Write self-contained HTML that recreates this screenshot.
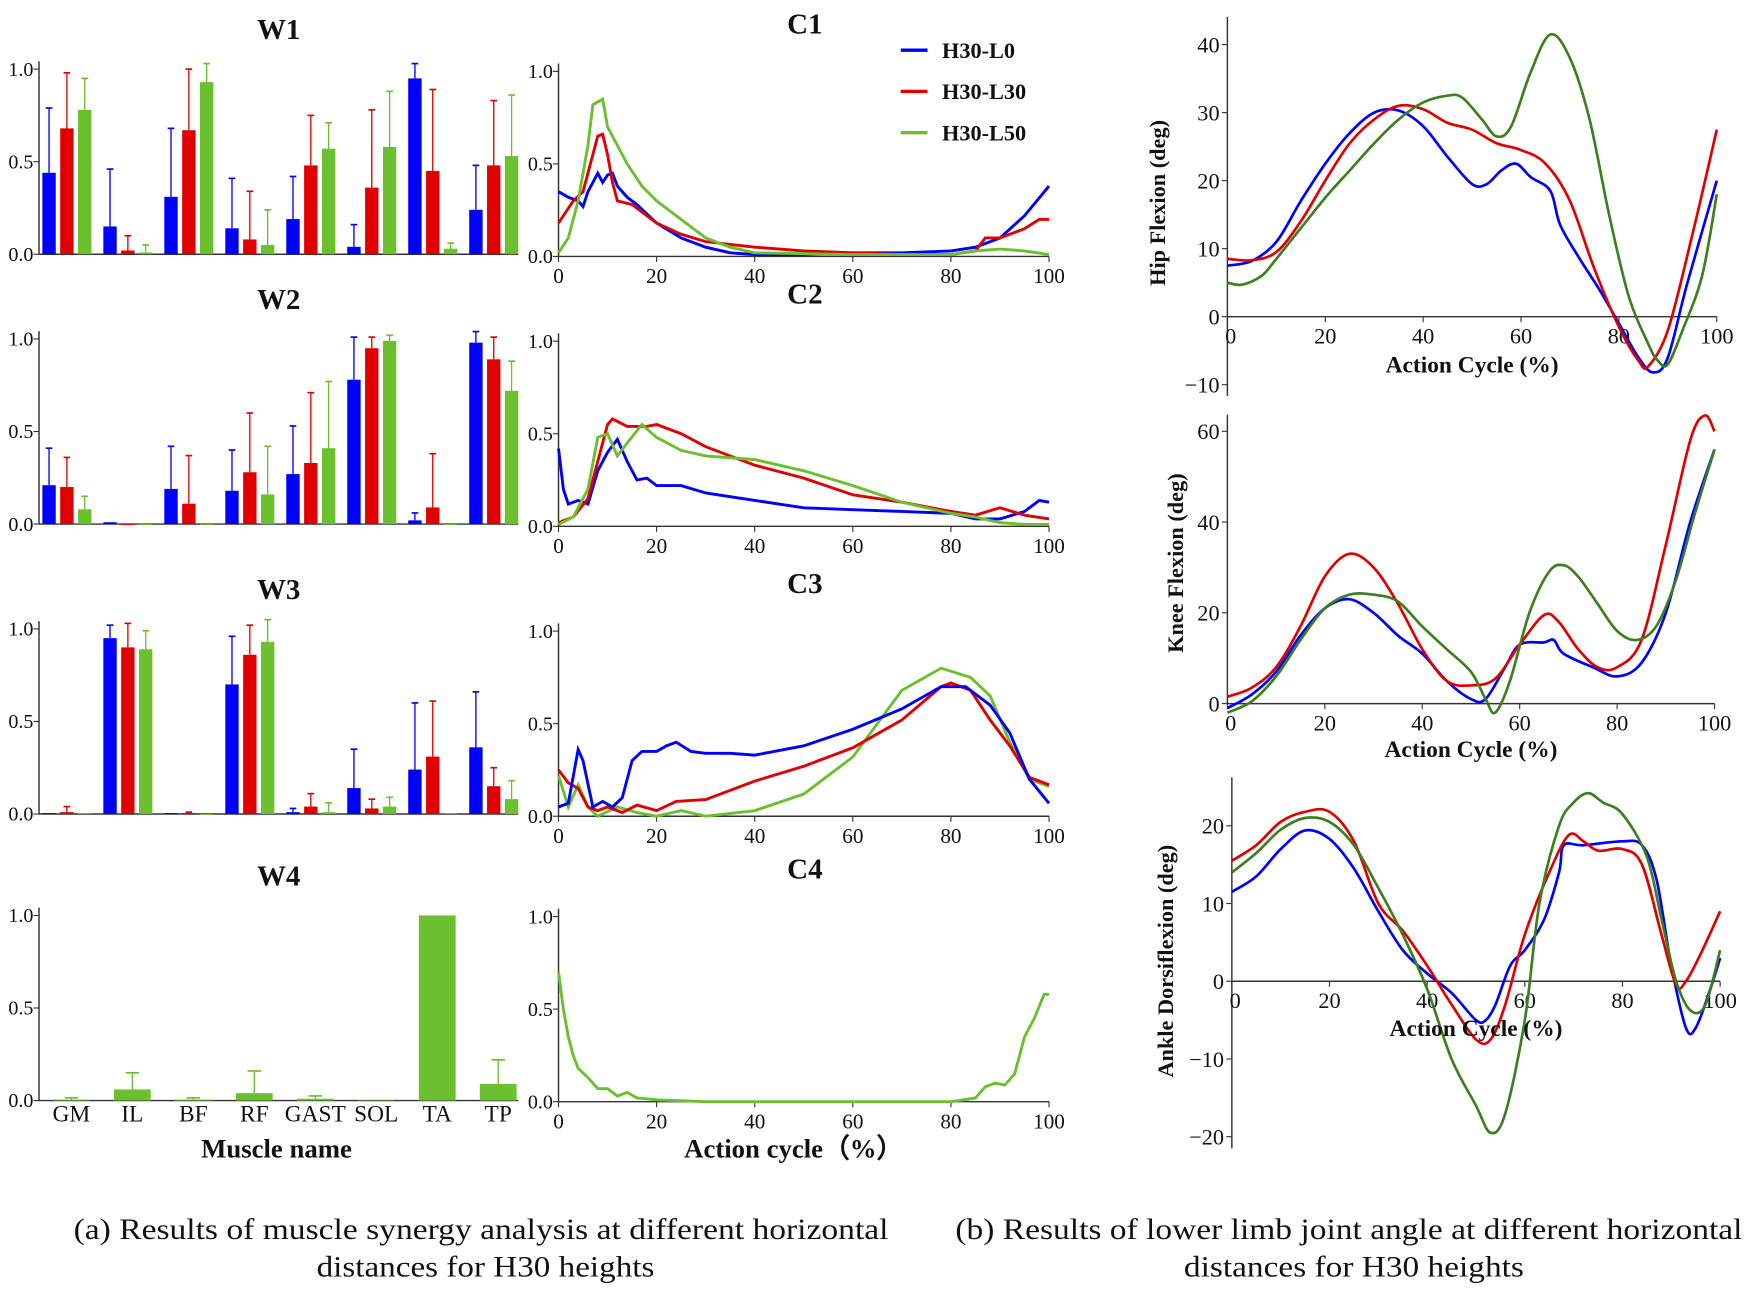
<!DOCTYPE html>
<html><head><meta charset="utf-8"><style>
html,body{margin:0;padding:0;background:#fff;}
svg{display:block;font-family:"Liberation Serif",serif;}
</style></head><body>
<svg id="fig" xmlns="http://www.w3.org/2000/svg" width="1748" height="1289" viewBox="0 0 1568 1156" preserveAspectRatio="none">
</svg>
<script>
// ---------- DATA ----------
const muscles = ["GM","IL","BF","RF","GAST","SOL","TA","TP"];
const seriesNames = ["H30-L0","H30-L30","H30-L50"];
const w1Blue = [0.44,0.15,0.31,0.14,0.19,0.04,0.95,0.24];
const w1BlueErr = [0.79,0.46,0.68,0.41,0.42,0.16,1.03,0.48];
const w1Red = [0.68,0.02,0.67,0.08,0.48,0.36,0.45,0.48];
const w1RedErr = [0.98,0.10,1.00,0.34,0.75,0.78,0.89,0.83];
const w1Green = [0.78,0.01,0.93,0.05,0.57,0.58,0.03,0.53];
const w1GreenErr = [0.95,0.05,1.03,0.24,0.71,0.88,0.06,0.86];
const w2Blue = [0.21,0.01,0.19,0.18,0.27,0.78,0.02,0.98];
const w2BlueErr = [0.41,0.01,0.42,0.40,0.53,1.01,0.06,1.04];
const w2Red = [0.20,0,0.11,0.28,0.33,0.95,0.09,0.89];
const w2RedErr = [0.36,0,0.37,0.60,0.71,1.01,0.38,1.01];
const w2Green = [0.08,0,0,0.16,0.41,0.99,0,0.72];
const w2GreenErr = [0.15,0,0,0.42,0.77,1.02,0,0.88];
const w3Blue = [0.005,0.95,0.005,0.70,0.01,0.14,0.24,0.36];
const w3BlueErr = [0.005,1.02,0.005,0.96,0.03,0.35,0.60,0.66];
const w3Red = [0.01,0.90,0.005,0.86,0.04,0.03,0.31,0.15];
const w3RedErr = [0.04,1.03,0.01,1.02,0.11,0.08,0.61,0.25];
const w3Green = [0.005,0.89,0,0.93,0.01,0.04,0.005,0.08];
const w3GreenErr = [0.005,0.99,0,1.05,0.06,0.09,0.005,0.18];
const w4Green = [0.005,0.06,0.005,0.04,0.01,0,1.0,0.09];
const w4GreenErr = [0.015,0.15,0.015,0.16,0.025,0,1.0,0.22];

const c1BlueX=[0,2,4,5,6,8,9,10,11,12,14,16,20,25,30,35,40,50,60,70,80,85,90,95,100];
const c1BlueY=[.35,.32,.30,.27,.35,.45,.40,.44,.45,.38,.32,.28,.18,.10,.05,.02,.01,.01,.02,.02,.03,.05,.10,.22,.38];
const c1RedX=[0,3,5,7,8,9,10,11,12,15,20,25,30,40,50,60,70,80,85,87,90,95,98,100];
const c1RedY=[.18,.30,.35,.55,.65,.66,.55,.40,.30,.28,.18,.12,.08,.05,.03,.02,.01,.01,.03,.10,.10,.15,.20,.20];
const c1GreenX=[0,2,4,6,7,9,10,12,14,17,20,25,30,35,40,60,80,85,90,95,100];
const c1GreenY=[.02,.10,.30,.60,.82,.85,.70,.60,.50,.38,.30,.20,.10,.05,.02,.01,.01,.03,.04,.03,.01];
const c2BlueX=[0,1,2,4,6,8,10,12,14,16,18,20,25,30,40,50,60,70,80,85,90,95,98,100];
const c2BlueY=[.42,.20,.12,.14,.12,.30,.40,.47,.35,.25,.26,.22,.22,.18,.14,.10,.09,.08,.07,.04,.04,.08,.14,.13];
const c2RedX=[0,3,6,8,10,11,14,18,20,25,30,35,40,50,60,70,80,85,90,95,100];
const c2RedY=[.02,.05,.15,.35,.55,.58,.54,.54,.55,.50,.43,.38,.33,.26,.17,.13,.08,.06,.10,.06,.04];
const c2GreenX=[0,3,6,8,10,12,14,17,20,25,30,40,50,60,70,80,85,90,95,100];
const c2GreenY=[.01,.05,.20,.48,.50,.38,.45,.55,.48,.41,.38,.36,.30,.22,.13,.07,.05,.02,.01,.01];
const c3BlueX=[0,2,4,5,7,9,11,13,15,17,20,22,24,27,30,35,40,50,60,70,78,83,88,92,96,100];
const c3BlueY=[.05,.07,.36,.30,.05,.08,.05,.10,.30,.35,.35,.38,.40,.35,.34,.34,.33,.38,.47,.58,.70,.70,.60,.45,.20,.07];
const c3RedX=[0,2,4,6,8,10,13,16,20,24,30,40,50,60,70,78,80,84,88,92,96,100];
const c3RedY=[.25,.18,.15,.05,.03,.05,.02,.06,.03,.08,.09,.19,.27,.37,.52,.70,.72,.68,.52,.38,.21,.17];
const c3GreenX=[0,2,4,6,8,12,16,20,25,30,40,50,60,70,78,84,88,92,96,100];
const c3GreenY=[.22,.05,.17,.05,0,.05,.02,0,.03,0,.03,.12,.32,.68,.80,.75,.65,.40,.20,.16];
const c4GreenX=[0,1,2,3,4,6,8,10,12,14,16,20,30,60,80,85,87,89,91,93,95,97,99,100];
const c4GreenY=[.70,.50,.35,.25,.18,.13,.07,.07,.03,.05,.02,.01,0,0,0,.02,.08,.10,.09,.15,.35,.45,.58,.58];

const hipBlueX=[0,5,10,15,20,25,30,35,40,45,50,53,56,59,62,66,68,72,76,80,84,87,90,94,100];
const hipBlueY=[7.5,8.2,11,17,22.5,27,30,30.3,28,23.5,19.5,19.5,21.5,22.5,20.5,18.5,13.5,8.5,4,-1,-6,-8.2,-6,5,20];
const hipRedX=[0,5,10,15,20,25,30,35,40,45,50,55,60,65,70,75,80,84,86,90,95,100];
const hipRedY=[8.5,8.3,9.5,14,20,25.5,29,31,30.5,28.5,27.5,25.5,24.5,22.5,17,7,-1.5,-6.5,-7.3,-2,12,27.5];
const hipGreenX=[0,3,7,10,15,20,25,30,35,40,45,48,52,55,58,62,66,70,74,78,82,86,88,90,93,97,100];
const hipGreenY=[5,4.7,6,8.5,13,17.5,21.5,25.5,29,31.5,32.5,32.2,29,26.5,28,36,41.5,38,29,15,3,-4,-6.5,-7,-2,6,18];
const kneeBlueX=[0,5,10,15,20,25,30,35,40,45,50,53,57,60,65,67,69,75,80,85,90,95,100];
const kneeBlueY=[-1,2,7,15,21,23,20,15,11,5,1,1,8,13,13.5,14,11,8,6,9,20,40,56];
const kneeRedX=[0,5,10,15,20,25,30,35,40,45,50,55,60,65,68,72,76,80,85,90,95,98,100];
const kneeRedY=[1.5,3.5,8,17,28,33,30,22,12,5,4,5.5,13,19.5,18,12,8,8,14,35,58,63.5,60];
const kneeGreenX=[0,5,10,15,20,25,30,35,40,45,50,53,55,58,62,66,69,72,76,80,84,88,92,96,100];
const kneeGreenY=[-2,0.5,6,14,21,24,24,22.5,17,12,7,1,-2,5,20,29,30.5,28,22,16,14,17,27,42,56];
const ankBlueX=[0,5,10,15,20,25,30,35,40,45,50,52,54,57,60,64,67,68,72,80,84,87,90,93,95,98,100];
const ankBlueY=[11.5,13.5,17,19.4,18.3,14.5,9,4,1,-1.5,-5,-5,-3,2,4,8,14,17.5,17.5,18,17.5,13,2,-6,-6,-1,3];
const ankRedX=[0,5,10,15,20,25,30,35,40,45,50,53,56,60,65,69,72,75,80,84,88,91,93,96,100];
const ankRedY=[15.5,17.5,20.5,21.8,21.8,18,10,6.5,2,-3,-7.5,-7.5,-3,6,14,18.8,18,16.8,17,15,6,-0.5,0,3.5,9];
const ankGreenX=[0,5,10,15,20,25,30,35,40,45,50,53,56,60,63,67,70,73,76,80,85,88,91,94,97,100];
const ankGreenY=[14,16.5,19.5,21,20.5,17.5,12,6,-1,-10,-16,-19.5,-17,-5,10,20,23,24.2,23,21.5,16,8,0,-3.8,-3,4];

// ---------- DRAW ----------
const NS="http://www.w3.org/2000/svg";
const svg=document.getElementById('fig');
function mk(tag,attrs,parent,txt){const e=document.createElementNS(NS,tag);for(const k in attrs)e.setAttribute(k,attrs[k]);if(txt!==undefined)e.textContent=txt;(parent||svg).appendChild(e);return e;}
function grp(name){const g=document.createElementNS(NS,'g');


svg.appendChild(g);return g;}
const BLUE="#0000ff",RED="#e00000",GREEN="#6cbf2e",DGREEN="#3d7f1f";
function text(g,x,y,s,size,anchor,bold,name){const t=mk('text',{x:x,y:y,'font-size':size,'text-anchor':anchor||'middle','font-weight':bold?'bold':'normal',fill:'#111'},g,s);

return t;}

function linePath(xs,ys,sx,sy,smooth){
  const p=xs.map((x,i)=>[sx(x),sy(ys[i])]);
  if(!smooth) return 'M'+p.map(q=>q[0].toFixed(1)+','+q[1].toFixed(1)).join('L');
  let d='M'+p[0][0]+','+p[0][1];
  for(let i=0;i<p.length-1;i++){const p0=p[i-1]||p[i],p1=p[i],p2=p[i+1],p3=p[i+2]||p2;
    const c1x=p1[0]+(p2[0]-p0[0])/6,c1y=p1[1]+(p2[1]-p0[1])/6,c2x=p2[0]-(p3[0]-p1[0])/6,c2y=p2[1]-(p3[1]-p1[1])/6;
    d+='C'+c1x.toFixed(1)+','+c1y.toFixed(1)+' '+c2x.toFixed(1)+','+c2y.toFixed(1)+' '+p2[0].toFixed(1)+','+p2[1].toFixed(1);}
  return d;}

function barPanel(name,title,y0,series,single){
  const g=grp(name);
  const sy=v=>y0-v*166, gx=k=>60+k*54.7;
  text(g,250,y0-203+10,title,26,'middle',true,name+'-title');
  mk('line',{x1:35,y1:y0-173,x2:35,y2:y0,stroke:'#333','stroke-width':1.3},g);
  mk('line',{x1:35,y1:y0,x2:465,y2:y0,stroke:'#333','stroke-width':1.3},g);
  [0,0.5,1].forEach(v=>{mk('line',{x1:30,y1:sy(v),x2:35,y2:sy(v),stroke:'#333'},g);text(g,30,sy(v)+6,v.toFixed(1),18,'end',false,'y-tick');});
  series.forEach((s,si)=>{
    s.v.forEach((v,k)=>{
      const w=single?33:12, cx=single?gx(k)+4:gx(k)+(si-1)*16;
      const e=s.e[k];
      if(e>v){mk('line',{x1:cx,y1:sy(e),x2:cx,y2:sy(v),stroke:s.c,'stroke-width':1.2},g);
        mk('line',{x1:cx-(single?6:3),y1:sy(e),x2:cx+(single?6:3),y2:sy(e),stroke:s.c,'stroke-width':1.5},g);}
      const r=mk('rect',{x:cx-w/2,y:sy(v),width:w,height:Math.max(0.8,v*166),fill:s.c},g);
      
      
    });});
}
barPanel('w1-panel','W1',228,[{v:w1Blue,e:w1BlueErr,c:BLUE},{v:w1Red,e:w1RedErr,c:RED},{v:w1Green,e:w1GreenErr,c:GREEN}]);
barPanel('w2-panel','W2',470,[{v:w2Blue,e:w2BlueErr,c:BLUE},{v:w2Red,e:w2RedErr,c:RED},{v:w2Green,e:w2GreenErr,c:GREEN}]);
barPanel('w3-panel','W3',730,[{v:w3Blue,e:w3BlueErr,c:BLUE},{v:w3Red,e:w3RedErr,c:RED},{v:w3Green,e:w3GreenErr,c:GREEN}]);
barPanel('w4-panel','W4',987,[{v:w4Green,e:w4GreenErr,c:GREEN}],true);
{const g=grp('muscle-axis');muscles.forEach((m,k)=>text(g,60+k*54.7+4,1006,m,21,'middle',false,'x-tick'));
text(g,248,1038,'Muscle name',24,'middle',true,'x-axis-title');}

function cPanel(name,title,y0,series){
  const g=grp(name);
  const sx=x=>501+x*4.4, sy=v=>y0-v*166;
  text(g,722,y0-205+5,title,26,'middle',true,name+'-title');
  mk('line',{x1:501,y1:y0-173,x2:501,y2:y0,stroke:'#333','stroke-width':1.3},g);
  mk('line',{x1:501,y1:y0,x2:941,y2:y0,stroke:'#333','stroke-width':1.3},g);
  [0,0.5,1].forEach(v=>{mk('line',{x1:496,y1:sy(v),x2:501,y2:sy(v),stroke:'#333'},g);text(g,496,sy(v)+6,v.toFixed(1),18,'end',false,'y-tick');});
  [0,20,40,60,80,100].forEach(v=>{mk('line',{x1:sx(v),y1:y0,x2:sx(v),y2:y0+5,stroke:'#333'},g);text(g,sx(v),y0+24,String(v),19,'middle',false,'x-tick');});
  series.forEach(s=>{const p=mk('path',{d:linePath(s.x,s.y,sx,sy,false),fill:'none',stroke:s.c,'stroke-width':2.6,'stroke-linejoin':'miter'},g);
    
    });
}
cPanel('c1-panel','C1',230,[{x:c1BlueX,y:c1BlueY,c:BLUE,n:'h30-l0'},{x:c1RedX,y:c1RedY,c:RED,n:'h30-l30'},{x:c1GreenX,y:c1GreenY,c:GREEN,n:'h30-l50'}]);
cPanel('c2-panel','C2',472,[{x:c2BlueX,y:c2BlueY,c:BLUE,n:'h30-l0'},{x:c2RedX,y:c2RedY,c:RED,n:'h30-l30'},{x:c2GreenX,y:c2GreenY,c:GREEN,n:'h30-l50'}]);
cPanel('c3-panel','C3',732,[{x:c3GreenX,y:c3GreenY,c:GREEN,n:'h30-l50'},{x:c3RedX,y:c3RedY,c:RED,n:'h30-l30'},{x:c3BlueX,y:c3BlueY,c:BLUE,n:'h30-l0'}]);
cPanel('c4-panel','C4',988,[{x:c4GreenX,y:c4GreenY,c:GREEN,n:'h30-l50'}]);
{const g=grp('c-axis-title');text(g,712,1038,'Action cycle（%）',24,'middle',true,'x-axis-title');}

{const g=grp('legend');[BLUE,RED,GREEN].forEach((c,i)=>{const y=45+i*37;
  mk('line',{x1:808,y1:y,x2:832,y2:y,stroke:c,'stroke-width':3},g);
  text(g,845,y+7,seriesNames[i],20,'start',true,'legend-entry');});}

function jPanel(name,ylab,cfg,series){
  const g=grp(name);
  const sx=x=>cfg.x0+x*(cfg.x1-cfg.x0)/100, sy=v=>cfg.zy-v*cfg.k;
  mk('line',{x1:cfg.x0,y1:cfg.top,x2:cfg.x0,y2:cfg.bot,stroke:'#333','stroke-width':1.3},g);
  mk('line',{x1:cfg.x0,y1:cfg.zy,x2:cfg.x1,y2:cfg.zy,stroke:'#333','stroke-width':1.3},g);
  cfg.yt.forEach(v=>{mk('line',{x1:cfg.x0-5,y1:sy(v),x2:cfg.x0,y2:sy(v),stroke:'#333'},g);text(g,cfg.x0-7,sy(v)+7,v<0?'\u2212'+(-v):String(v),20,'end',false,'y-tick');});
  [0,20,40,60,80,100].forEach(v=>{mk('line',{x1:sx(v),y1:cfg.zy,x2:sx(v),y2:cfg.zy+5,stroke:'#333'},g);text(g,sx(v)+(v===0?3:0),cfg.zy+24,String(v),20,'middle',false,'x-tick');});
  series.forEach(s=>{const p=mk('path',{d:linePath(s.x,s.y,sx,sy,true),fill:'none',stroke:s.c,'stroke-width':2.4},g);
    
    });
  text(g,(cfg.x0+cfg.x1)/2,cfg.xl,'Action Cycle (%)',21,'middle',true,'x-axis-title');
  const t=text(g,0,0,ylab,20,'middle',true,'y-axis-title');t.setAttribute('transform','translate('+cfg.ylx+','+cfg.yly+') rotate(-90)');
}
jPanel('hip-panel','Hip Flexion (deg)',{x0:1101,x1:1540,zy:284,k:6.1,top:15,bot:355,yt:[-10,0,10,20,30,40],xl:334,ylx:1045,yly:182},
 [{x:hipBlueX,y:hipBlueY,c:BLUE,n:'h30-l0'},{x:hipRedX,y:hipRedY,c:RED,n:'h30-l30'},{x:hipGreenX,y:hipGreenY,c:DGREEN,n:'h30-l50'}]);
jPanel('knee-panel','Knee Flexion (deg)',{x0:1101,x1:1538,zy:631,k:4.07,top:372,bot:631,yt:[0,20,40,60],xl:679,ylx:1061,yly:505},
 [{x:kneeBlueX,y:kneeBlueY,c:BLUE,n:'h30-l0'},{x:kneeRedX,y:kneeRedY,c:RED,n:'h30-l30'},{x:kneeGreenX,y:kneeGreenY,c:DGREEN,n:'h30-l50'}]);
jPanel('ankle-panel','Ankle Dorsiflexion (deg)',{x0:1105,x1:1543,zy:880,k:6.97,top:697,bot:1030,yt:[-20,-10,0,10,20],xl:929,ylx:1052,yly:862},
 [{x:ankBlueX,y:ankBlueY,c:BLUE,n:'h30-l0'},{x:ankRedX,y:ankRedY,c:RED,n:'h30-l30'},{x:ankGreenX,y:ankGreenY,c:DGREEN,n:'h30-l50'}]);

function cap(g,x,y,s,len,name){const t=text(g,x,y,s,27,'start',false,name);t.setAttribute('textLength',len);t.setAttribute('lengthAdjust','spacingAndGlyphs');}
{const g=grp('caption-a');
 cap(g,66,1111,'(a)  Results of muscle synergy analysis at different horizontal','731','caption-a-line1');
 cap(g,284,1145,'distances for H30 heights','303','caption-a-line2');}
{const g=grp('caption-b');
 cap(g,857,1111,'(b)  Results of lower limb joint angle at different horizontal','706','caption-b-line1');
 cap(g,1062,1145,'distances for H30 heights','305','caption-b-line2');}
</script>
</body></html>
